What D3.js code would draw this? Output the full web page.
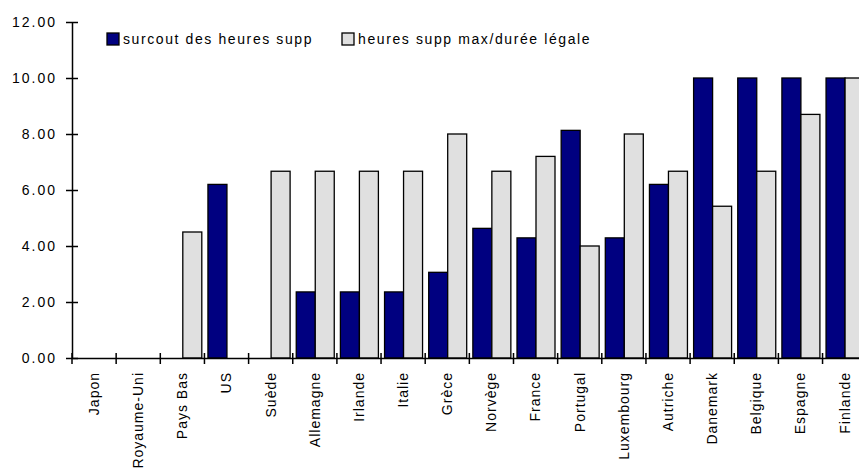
<!DOCTYPE html>
<html>
<head>
<meta charset="utf-8">
<script src="https://cdn.jsdelivr.net/npm/d3@7"></script>
<style>
  body { margin: 0; background: #fff; }
  svg text { font-family: "Liberation Sans", Arial, sans-serif; fill: #000; }
</style>
</head>
<body>
<div id="chart"></div>
<script>
// categories and the two series
const pays = ['Japon', 'Royaume-Uni', 'Pays Bas', 'US', 'Suède', 'Allemagne', 'Irlande', 'Italie',
  'Grèce', 'Norvège', 'France', 'Portugal', 'Luxembourg', 'Autriche', 'Danemark', 'Belgique',
  'Espagne', 'Finlande'];
const surcout = [0, 0, 0, 6.2, 0, 2.36, 2.36, 2.36, 3.06, 4.63, 4.29, 8.13, 4.29, 6.2, 10, 10, 10, 10];
const maxLegale = [0, 0, 4.5, 0, 6.67, 6.67, 6.67, 6.67, 8.0, 6.67, 7.2, 4.0, 8.0, 6.67, 5.42, 6.67, 8.7, 10];
const seriesNames = ['surcout des heures supp', 'heures supp max/durée légale'];
const yTicks = [0, 2, 4, 6, 8, 10, 12];

const colors = ['#000080', '#e0e0e0'];

const W = 859, H = 470;
const plotLeft = 72, plotTop = 22, plotBottom = 358;
const step = 44.15;

const svg = d3.select('#chart').append('svg')
  .attr('width', W)
  .attr('height', H);

// scales
const x = d3.scaleBand().domain(pays).range([plotLeft, plotLeft + step * pays.length]).padding(0);
const xs = d3.scaleBand().domain([0, 1]).range([3.5, 41.5]).padding(0);
const y = d3.scaleLinear().domain([0, 12]).range([plotBottom, plotTop]);

const rows = pays.map((p, i) => ({ pays: p, vals: [surcout[i], maxLegale[i]] }));

// bars
const groups = svg.append('g').selectAll('g')
  .data(rows)
  .join('g')
  .attr('transform', d => 'translate(' + x(d.pays) + ',0)');

groups.selectAll('rect')
  .data(d => d.vals.map((v, k) => ({ k: k, v: v })).filter(e => e.v > 0))
  .join('rect')
  .attr('x', d => xs(d.k))
  .attr('width', xs.bandwidth())
  .attr('y', d => y(d.v))
  .attr('height', d => y(0) - y(d.v))
  .attr('fill', d => colors[d.k])
  .attr('stroke', '#000')
  .attr('stroke-width', 1.3);

// y axis
const yAxis = svg.append('g')
  .attr('transform', 'translate(' + plotLeft + ',0)')
  .call(d3.axisLeft(y).tickValues(yTicks).tickFormat(d3.format('.2f')).tickSize(6).tickSizeOuter(0));
yAxis.selectAll('.tick line').attr('x1', 6).attr('stroke-width', 1.5);
yAxis.select('.domain').attr('stroke-width', 1.5);
yAxis.selectAll('.tick text')
  .attr('x', -15)
  .style('font-size', '14px')
  .style('letter-spacing', '2px');

// x axis
const xAxis = svg.append('g')
  .attr('transform', 'translate(0,' + plotBottom + ')')
  .call(d3.axisBottom(x).tickSize(6).tickSizeOuter(0));
xAxis.select('.domain').attr('stroke-width', 1.5);
xAxis.selectAll('.tick line')
  .attr('x1', -x.bandwidth() / 2)
  .attr('x2', -x.bandwidth() / 2)
  .attr('y1', -5)
  .attr('y2', 6)
  .attr('stroke-width', 1.5);
xAxis.selectAll('.tick text')
  .attr('transform', 'rotate(-90)')
  .attr('x', -14)
  .attr('y', 0)
  .attr('dy', '0.35em')
  .style('text-anchor', 'end')
  .style('font-size', '14px')
  .style('letter-spacing', '1px');

// legend
const legendX = [107, 342];
const legend = svg.append('g').selectAll('g')
  .data(seriesNames)
  .join('g')
  .attr('transform', (d, i) => 'translate(' + legendX[i] + ',33)');
legend.append('rect')
  .attr('width', 12)
  .attr('height', 12)
  .attr('fill', (d, i) => colors[i])
  .attr('stroke', '#000')
  .attr('stroke-width', 1.3);
legend.append('text')
  .attr('x', 16)
  .attr('y', 11)
  .style('font-size', '14px')
  .style('letter-spacing', '1.6px')
  .text(d => d);
</script>
</body>
</html>
